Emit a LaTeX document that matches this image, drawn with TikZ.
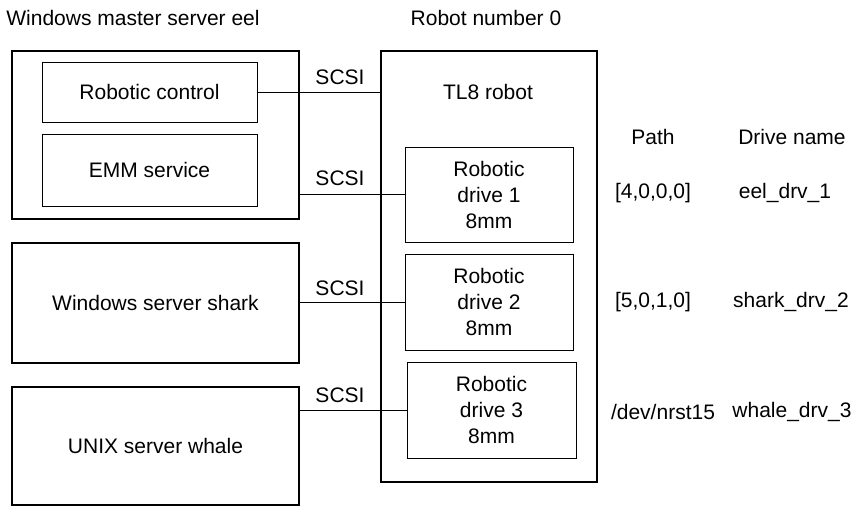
\documentclass[tikz,border=0pt]{standalone}
\usepackage{fontspec}
\setmainfont{Liberation Sans}
\begin{document}
\begin{tikzpicture}[x=1pt,y=-1pt,
  every node/.style={font=\fontsize{21}{26}\selectfont},
  outerbox/.style={draw, line width=1.6pt, inner sep=0pt, align=center},
  innerbox/.style={draw, line width=1pt, inner sep=0pt, align=center},
  txt/.style={inner sep=0pt, align=center},
  link/.style={line width=1pt}]
\useasboundingbox (0,0) rectangle (863,506);
% titles
\node[txt] (t1) at (133,18) {Windows master server eel};
\node[txt] (t2) at (486,18) {Robot number 0};
% left servers
\node[outerbox, minimum width=287pt, minimum height=168pt] (eel) at (155.5,135) {};
\node[innerbox, minimum width=215pt, minimum height=60pt] (rc) at (149.5,92) {Robotic control};
\node[innerbox, minimum width=215pt, minimum height=72pt] (emm) at (149.5,170) {EMM service};
\node[outerbox, minimum width=287pt, minimum height=120pt] (shark) at (155.5,303) {Windows server shark};
\node[outerbox, minimum width=287pt, minimum height=118pt] (whale) at (155.5,446) {UNIX server whale};
% robot
\node[outerbox, minimum width=216pt, minimum height=431pt] (robot) at (489,266.5) {};
\node[txt] (tl8) at (488,92) {TL8 robot};
\node[innerbox, minimum width=168pt, minimum height=95pt] (d1) at (489,194.5) {Robotic\\drive 1\\8mm};
\node[innerbox, minimum width=168pt, minimum height=96pt] (d2) at (489,302) {Robotic\\drive 2\\8mm};
\node[innerbox, minimum width=169pt, minimum height=96pt] (d3) at (491.5,410) {Robotic\\drive 3\\8mm};
% connectors
\draw[link] (rc.east) -- (rc.east -| robot.west);
\draw[link] (eel.east |- d1.west) -- (d1.west);
\draw[link] (shark.east |- d2.west) -- (d2.west);
\draw[link] (whale.east |- d3.west) -- (d3.west);
% SCSI labels
\node[txt] (s1) at (340,77) {SCSI};
\node[txt] (s2) at (340,178) {SCSI};
\node[txt] (s3) at (340,288) {SCSI};
\node[txt] (s4) at (340,395) {SCSI};
% table
\node[txt] (hp) at (653,137) {Path};
\node[txt] (hd) at (792,137) {Drive name};
\node[txt] (p1) at (653,193) {[4,0,0,0]};
\node[txt] (n1) at (785,193) {eel\_drv\_1};
\node[txt] (p2) at (653,302) {[5,0,1,0]};
\node[txt] (n2) at (791,302) {shark\_drv\_2};
\node[txt] (p3) at (663,412) {/dev/nrst15};
\node[txt] (n3) at (792,412) {whale\_drv\_3};
\end{tikzpicture}
\end{document}
